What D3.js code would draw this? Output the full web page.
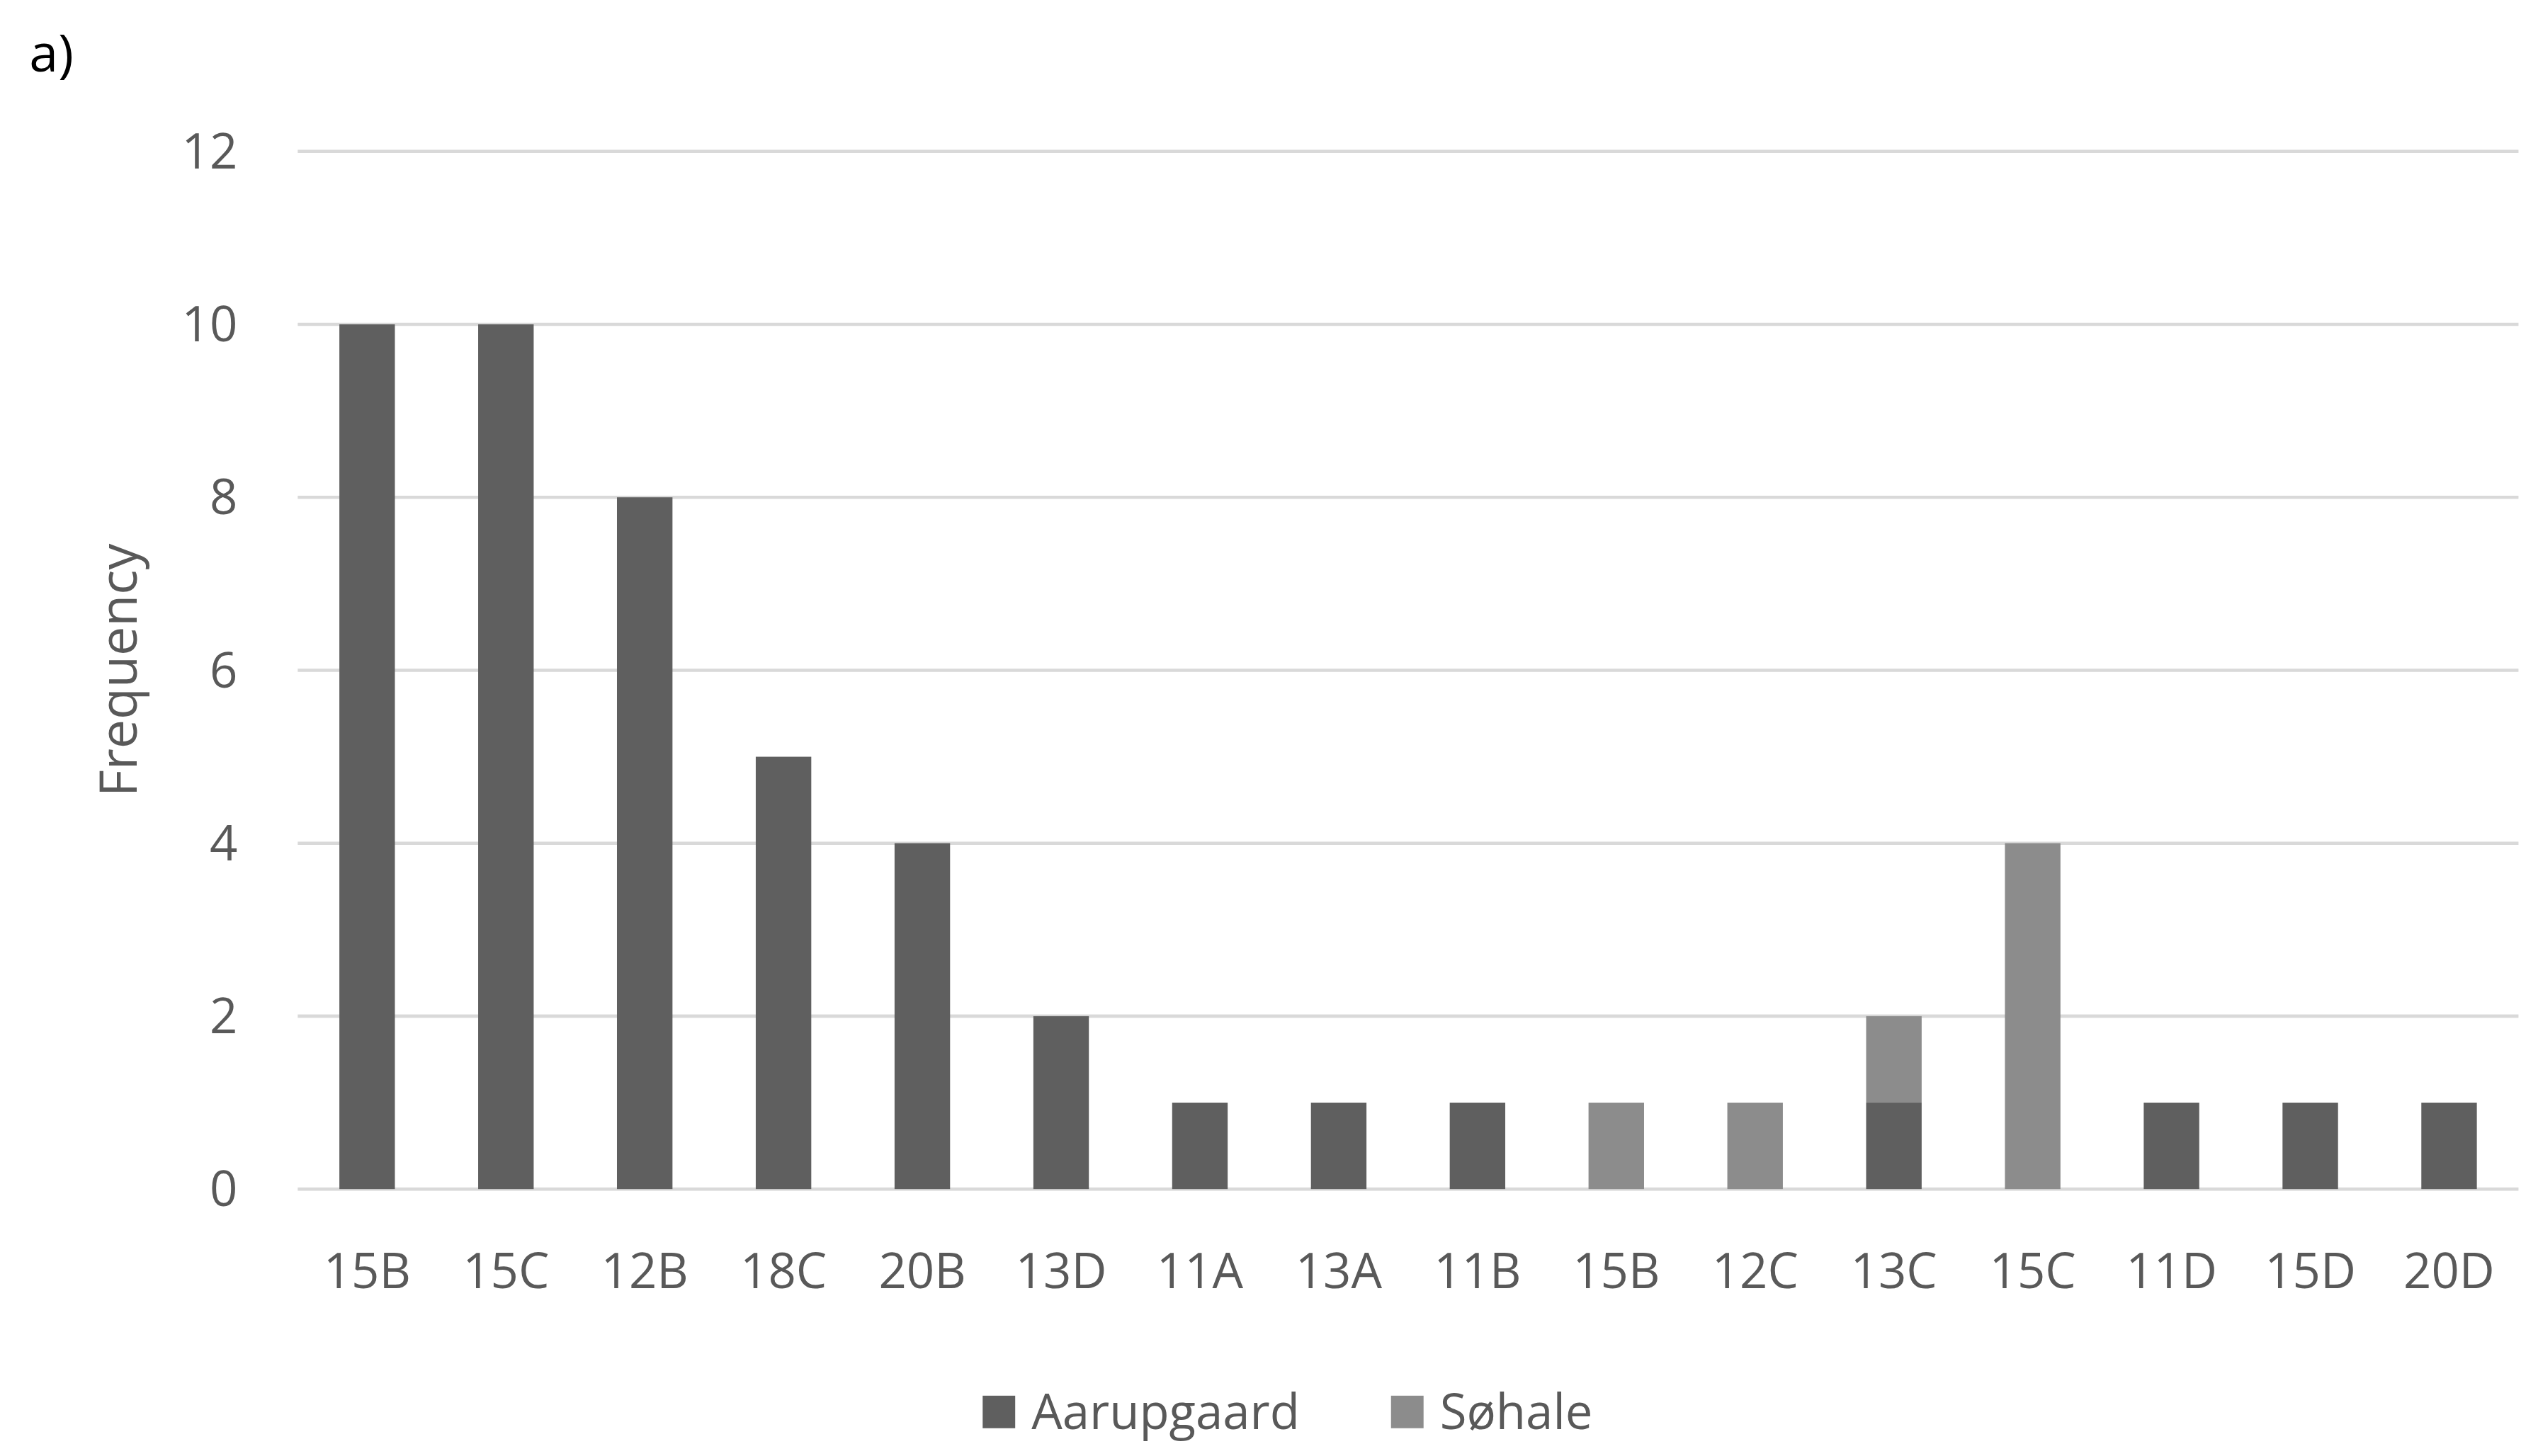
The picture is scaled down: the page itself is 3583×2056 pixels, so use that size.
<!DOCTYPE html>
<html><head><meta charset="utf-8">
<script src="https://cdn.jsdelivr.net/npm/d3@7"></script>
<style>body{margin:0;background:#fff}svg{display:block}</style>
</head><body>
<svg width="3583" height="2056" viewBox="0 0 1560 895"></svg>
<script>
var categories = ["15B","15C","12B","18C","20B","13D","11A","13A","11B","15B","12C","13C","15C","11D","15D","20D"];
var aarupgaard = [10,10,8,5,4,2,1,1,1,0,0,1,0,1,1,1];
var sohale =     [0,0,0,0,0,0,0,0,0,1,1,1,4,0,0,0];
var yTicks = [0,2,4,6,8,10,12];
var seriesNames = ["Aarupgaard","Søhale"];
var colors = ["#5f5f5f","#8c8c8c"];

var svg = d3.select("svg");
var font = "'Open Sans', 'Liberation Sans', sans-serif";

var x = d3.scaleBand().domain(d3.range(categories.length)).range([183, 1548]).paddingInner(0.6).paddingOuter(0.3);
var y = d3.scaleLinear().domain([0, 12]).range([731, 93]);

svg.selectAll(".grid").data(yTicks).enter().append("line")
.attr("x1", 183).attr("x2", 1548)
.attr("y1", function(d){ return y(d); }).attr("y2", function(d){ return y(d); })
.attr("stroke", "#d9d9d9").attr("stroke-width", 2);

svg.selectAll(".ytick").data(yTicks).enter().append("text")
.attr("x", 146).attr("y", function(d){ return y(d); }).attr("dy", "0.35em")
.attr("text-anchor", "end").attr("font-family", font).attr("font-size", 30).attr("fill", "#595959")
.text(function(d){ return d; });

var rows = categories.map(function(c, i){ return {i: i, a: aarupgaard[i], s: sohale[i]}; });
var stacked = d3.stack().keys(["a","s"])(rows);

svg.selectAll(".series").data(stacked).enter().append("g")
.attr("fill", function(d, k){ return colors[k]; })
.selectAll("rect").data(function(d){ return d; }).enter().append("rect")
.attr("x", function(d){ return x(d.data.i); })
.attr("width", x.bandwidth())
.attr("y", function(d){ return y(d[1]); })
.attr("height", function(d){ return y(d[0]) - y(d[1]); });

svg.selectAll(".xtick").data(categories).enter().append("text")
.attr("x", function(d, i){ return x(i) + x.bandwidth()/2; }).attr("y", 792)
.attr("text-anchor", "middle").attr("font-family", font).attr("font-size", 30).attr("fill", "#595959")
.text(function(d){ return d; });

svg.append("text").attr("transform", "translate(84,412) rotate(-90)")
.attr("text-anchor", "middle").attr("font-family", font).attr("font-size", 32).attr("fill", "#595959")
.text("Frequency");

svg.append("text").attr("x", 18).attr("y", 44).attr("font-family", font).attr("font-size", 32).attr("fill", "#000").text("a)");

var legX = [604, 855];
seriesNames.forEach(function(n, k){
  svg.append("rect").attr("x", legX[k]).attr("y", 858).attr("width", 20).attr("height", 20).attr("fill", colors[k]);
  svg.append("text").attr("x", legX[k] + 30).attr("y", 868).attr("dy", "0.35em")
  .attr("font-family", font).attr("font-size", 30).attr("fill", "#595959").text(n);
});
</script>
</body></html>
